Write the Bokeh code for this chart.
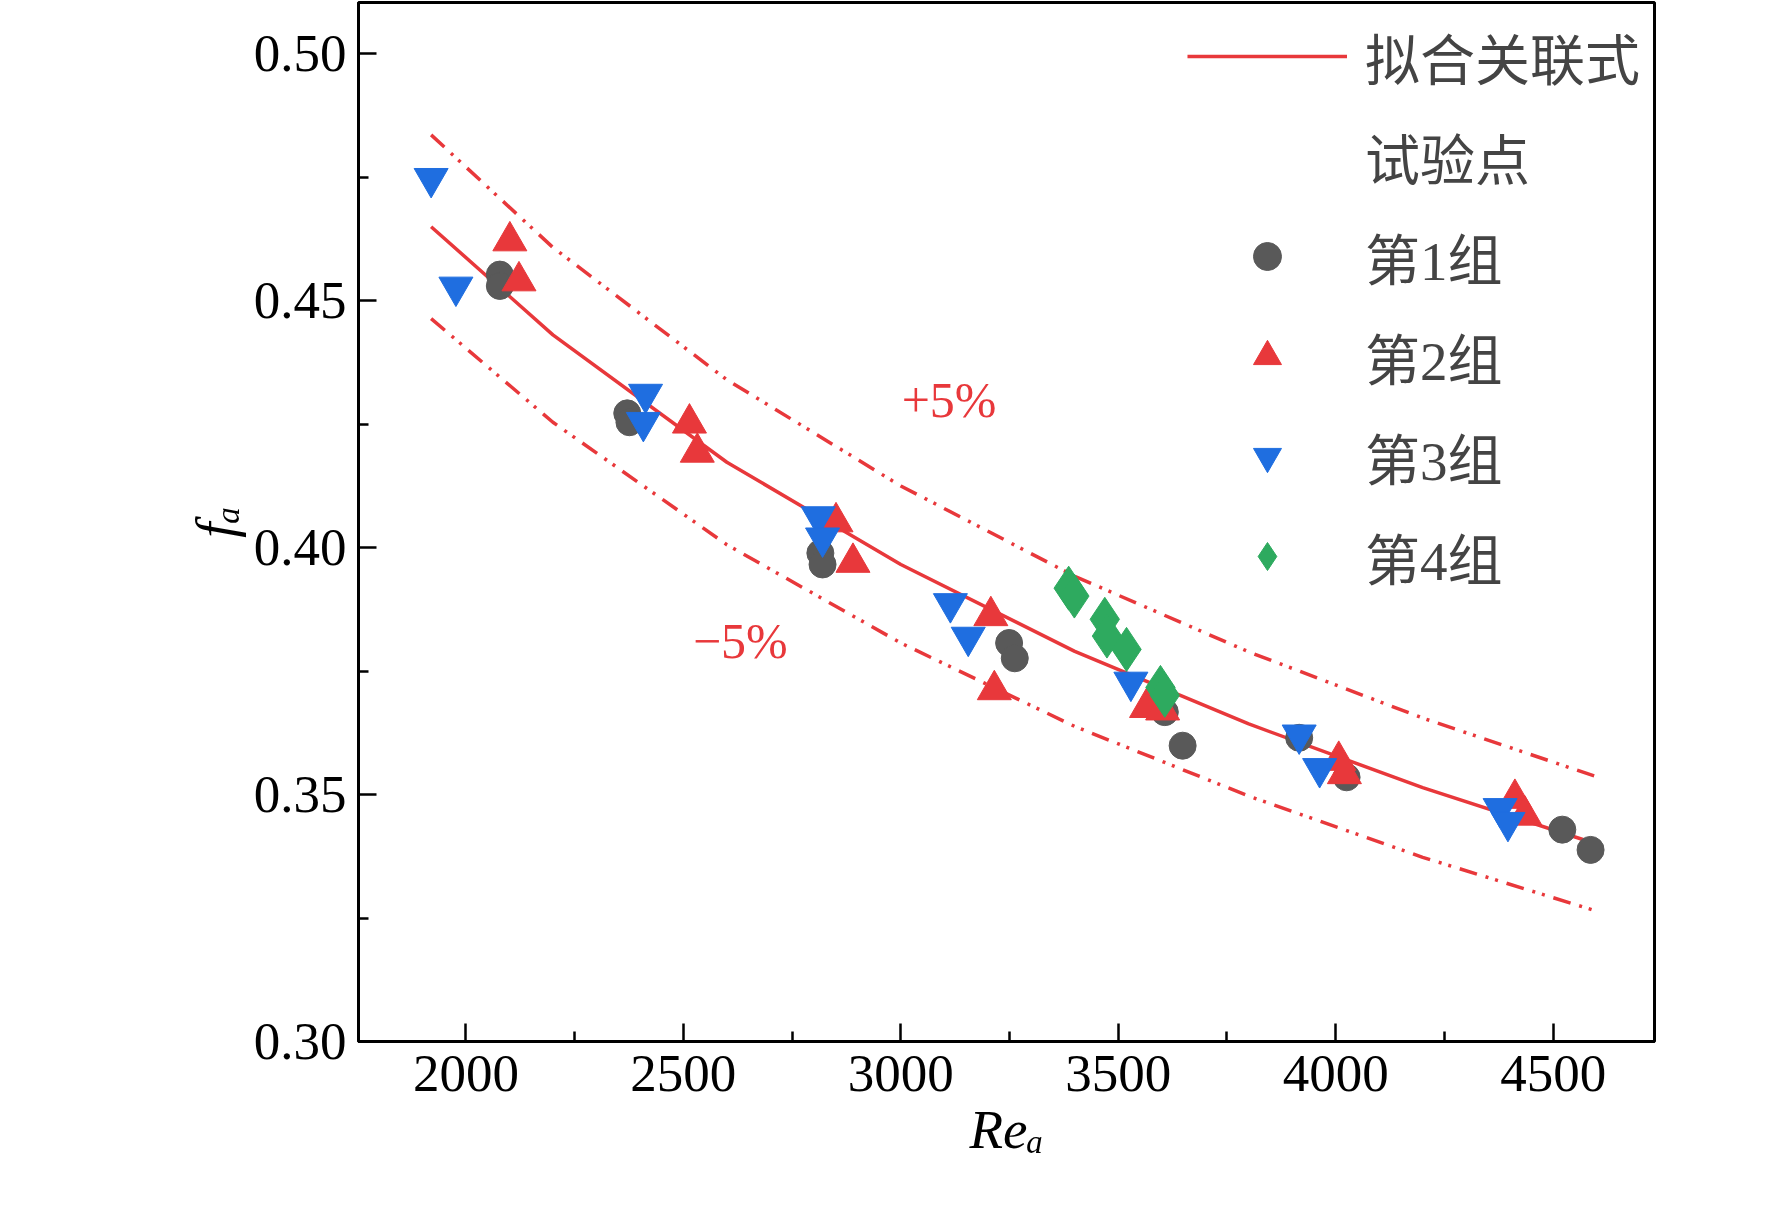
from bokeh.plotting import figure
from bokeh.models import Legend, LegendItem, Label, FixedTicker, Range1d, NumeralTickFormatter
from bokeh.embed import file_html
from bokeh.resources import INLINE

curve_x = [1920, 2200, 2600, 3000, 3400, 3800, 4200, 4600]
curve_y = [0.465, 0.4431, 0.4173, 0.3966, 0.3790, 0.3643, 0.3514, 0.340]
upper_y = [0.4836, 0.4608, 0.4340, 0.4125, 0.3942, 0.3789, 0.3655, 0.3536]
lower_y = [0.4464, 0.4254, 0.4006, 0.3807, 0.3638, 0.3497, 0.3373, 0.3264]

g1_x = [2078, 2078, 2371, 2376, 2815, 2820, 3249, 3262, 3607, 3648, 3916, 4025, 4521, 4586]
g1_y = [0.4553, 0.453, 0.4272, 0.4254, 0.3989, 0.3966, 0.3807, 0.3776, 0.3667, 0.3599, 0.3615, 0.3535, 0.3429, 0.3388]
g2_x = [2101, 2122, 2514, 2532, 2851, 2890, 3207, 3215, 3565, 3602, 4007, 4020, 4412, 4435]
g2_y = [0.4621, 0.454, 0.4252, 0.4193, 0.4052, 0.397, 0.3862, 0.3712, 0.3676, 0.3671, 0.3569, 0.3542, 0.3492, 0.3458]
g3_x = [1920, 1977, 2413, 2408, 2810, 2820, 3114, 3155, 3529, 3916, 3963, 4378, 4396]
g3_y = [0.4748, 0.4528, 0.4311, 0.4254, 0.4063, 0.402, 0.3887, 0.3819, 0.3728, 0.3621, 0.3553, 0.3472, 0.3444]
g4_x = [3386, 3399, 3469, 3474, 3519, 3597, 3607]
g4_y = [0.3918, 0.3902, 0.3855, 0.3821, 0.3794, 0.3717, 0.3701]

x_ticks = [2000, 2500, 3000, 3500, 4000, 4500]
y_ticks = [0.30, 0.35, 0.40, 0.45, 0.50]

RED = "#e8383b"
SERIF = "Liberation Serif, Noto Sans CJK SC"

p = figure(width=1756, height=1214, output_backend="svg", toolbar_location=None,
           x_range=Range1d(1753, 4733), y_range=Range1d(0.30, 0.5104),
           min_border_left=358, min_border_right=102, min_border_bottom=173, min_border_top=2)
p.grid.visible = False
p.outline_line_color = "black"
p.outline_line_width = 3
p.background_fill_color = "white"

for ax in (p.xaxis[0], p.yaxis[0]):
    ax.axis_line_width = 3
    ax.major_tick_in = 18
    ax.major_tick_out = 0
    ax.minor_tick_in = 10
    ax.minor_tick_out = 0
    ax.major_tick_line_width = 2.5
    ax.minor_tick_line_width = 2.5
    ax.major_label_text_font = SERIF
    ax.major_label_text_font_size = "53px"
    ax.major_label_text_color = "black"
    ax.axis_label_text_font = SERIF
    ax.axis_label_text_font_size = "55px"
    ax.axis_label_text_font_style = "italic"
    ax.axis_label_text_color = "black"
p.xaxis[0].ticker = FixedTicker(ticks=x_ticks, minor_ticks=[2250, 2750, 3250, 3750, 4250])
p.yaxis[0].ticker = FixedTicker(ticks=y_ticks, minor_ticks=[0.325, 0.375, 0.425, 0.475])
p.yaxis[0].formatter = NumeralTickFormatter(format="0.00")
p.xaxis[0].axis_label = "Reₐ"
p.yaxis[0].axis_label = "fₐ"
p.xaxis[0].major_label_standoff = 14
p.yaxis[0].major_label_standoff = 12

fit = p.line(curve_x, curve_y, line_color=RED, line_width=3.5)
p.line(curve_x, upper_y, line_color=RED, line_width=3.5, line_dash="18 9 3 7 3 9")
p.line(curve_x, lower_y, line_color=RED, line_width=3.5, line_dash="18 9 3 7 3 9")

s1 = p.scatter(g1_x, g1_y, marker="circle", size=27, fill_color="#595959", line_color="#595959")
s2 = p.scatter(g2_x, g2_y, marker="triangle", size=34, fill_color=RED, line_color=RED)
s3 = p.scatter(g3_x, g3_y, marker="inverted_triangle", size=34, fill_color="#1f6ee0", line_color="#1f6ee0")
s4 = p.scatter(g4_x, g4_y, marker="diamond", size=44, fill_color="#2eaa5f", line_color="#2eaa5f")
blank = p.scatter([], [], size=1, fill_alpha=0, line_alpha=0)

p.add_layout(Label(x=3111, y=0.430, text="+5%", text_color=RED, text_font=SERIF,
                   text_font_size="50px", text_align="center", text_baseline="middle"))
p.add_layout(Label(x=2631, y=0.3812, text="−5%", text_color=RED, text_font=SERIF,
                   text_font_size="50px", text_align="center", text_baseline="middle"))

legend = Legend(items=[
    LegendItem(label="拟合关联式", renderers=[fit]),
    LegendItem(label="试验点", renderers=[blank]),
    LegendItem(label="第1组", renderers=[s1]),
    LegendItem(label="第2组", renderers=[s2]),
    LegendItem(label="第3组", renderers=[s3]),
    LegendItem(label="第4组", renderers=[s4]),
], location="top_right")
legend.label_text_font = SERIF
legend.label_text_font_size = "55px"
legend.glyph_width = 160
legend.glyph_height = 70
legend.label_height = 70
legend.label_standoff = 18
legend.spacing = 20
legend.border_line_alpha = 0
legend.background_fill_alpha = 0
legend.margin = 8
legend.padding = 6
p.add_layout(legend)

open("out.html", "w").write(file_html(p, INLINE))
